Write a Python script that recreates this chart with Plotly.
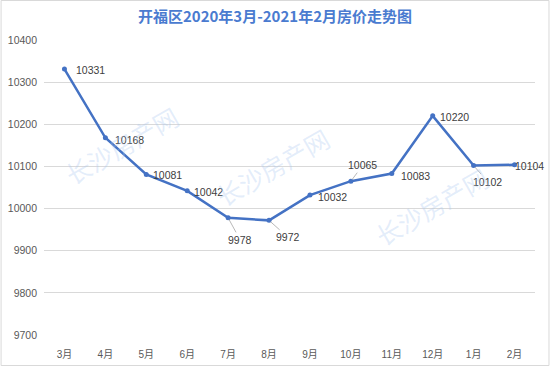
import plotly.graph_objects as go

months = ["3月", "4月", "5月", "6月", "7月", "8月", "9月", "10月", "11月", "12月", "1月", "2月"]
prices = [10331, 10168, 10081, 10042, 9978, 9972, 10032, 10065, 10083, 10220, 10102, 10104]
y_ticks = [9700, 9800, 9900, 10000, 10100, 10200, 10300, 10400]

# label offsets (pixels) and whether a leader line is drawn
label_style = [
    (26, 1, False), (24, 2, False), (21, 1, False), (21, 1, False),
    (12, 22, True), (19, 17, True), (23, 2, False), (12, -16, True),
    (24, 2, False), (22, 1, False), (14, 16, True), (15, 1, False),
]

FONT = "Liberation Sans, Noto Sans CJK SC"

fig = go.Figure()
fig.add_trace(go.Scatter(
    x=months, y=prices, mode="lines+markers",
    line=dict(color="#4472C4", width=2.5),
    marker=dict(color="#4472C4", size=5),
    hoverinfo="x+y", showlegend=False,
))

annotations = []
for m, p, (dx, dy, lead) in zip(months, prices, label_style):
    if lead:
        annotations.append(dict(
            x=m, y=p, text=str(p), showarrow=True, ax=dx, ay=dy,
            arrowhead=0, arrowwidth=0.8, arrowcolor="#A6A6A6", standoff=2,
            font=dict(size=10.5, color="#404040", family=FONT),
        ))
    else:
        annotations.append(dict(
            x=m, y=p, text=str(p), showarrow=False, xshift=dx, yshift=-dy,
            font=dict(size=10.5, color="#404040", family=FONT),
        ))

# watermarks (pixel centres converted to paper coords)
for px, py in [(121, 145), (272, 167), (432, 206)]:
    annotations.append(dict(xref="paper", yref="paper",
                            x=(px - 43.5) / 492, y=(335 - py) / 295,
                            xanchor="center", yanchor="middle",
                            text="长沙房产网", showarrow=False, textangle=-30,
                            font=dict(size=25, color="rgba(170,200,240,0.32)",
                                      family="Noto Sans CJK SC")))

fig.update_layout(
    width=550, height=366,
    margin=dict(l=43.5, r=14.5, t=40, b=31),
    paper_bgcolor="white", plot_bgcolor="white",
    title=dict(text="<b>开福区2020年3月-2021年2月房价走势图</b>", x=0.5, xanchor="center",
               y=1 - 17 / 366, yanchor="middle",
               font=dict(size=15, color="#4A7BD0", family="Noto Sans CJK SC")),
    xaxis=dict(type="category", showgrid=False, zeroline=False, showline=False, ticks="",
               tickfont=dict(size=10, color="#595959", family=FONT),
               ticklabelstandoff=12, automargin=False,
               range=[-0.5, len(months) - 0.5]),
    yaxis=dict(range=[9700, 10400], tickvals=y_ticks, ticktext=[str(v) for v in y_ticks],
               showgrid=True, gridcolor="#D9D9D9", automargin=False,
               ticklabelstandoff=6,
               gridwidth=1, zeroline=False, showline=False, ticks="",
               tickfont=dict(size=10.5, color="#595959", family=FONT)),
    annotations=annotations,
    shapes=[dict(type="rect", xref="paper", yref="paper",
                 x0=(0.5 - 43.5) / 492, x1=(549.5 - 43.5) / 492,
                 y0=(335 - 365.5) / 295, y1=(335 - 0.5) / 295,
                 line=dict(color="#D9D9D9", width=1), layer="below")],
)

fig.write_html("out.html", config={"displayModeBar": False},
               post_script="document.body.style.margin='0';document.body.style.overflow='hidden';")
